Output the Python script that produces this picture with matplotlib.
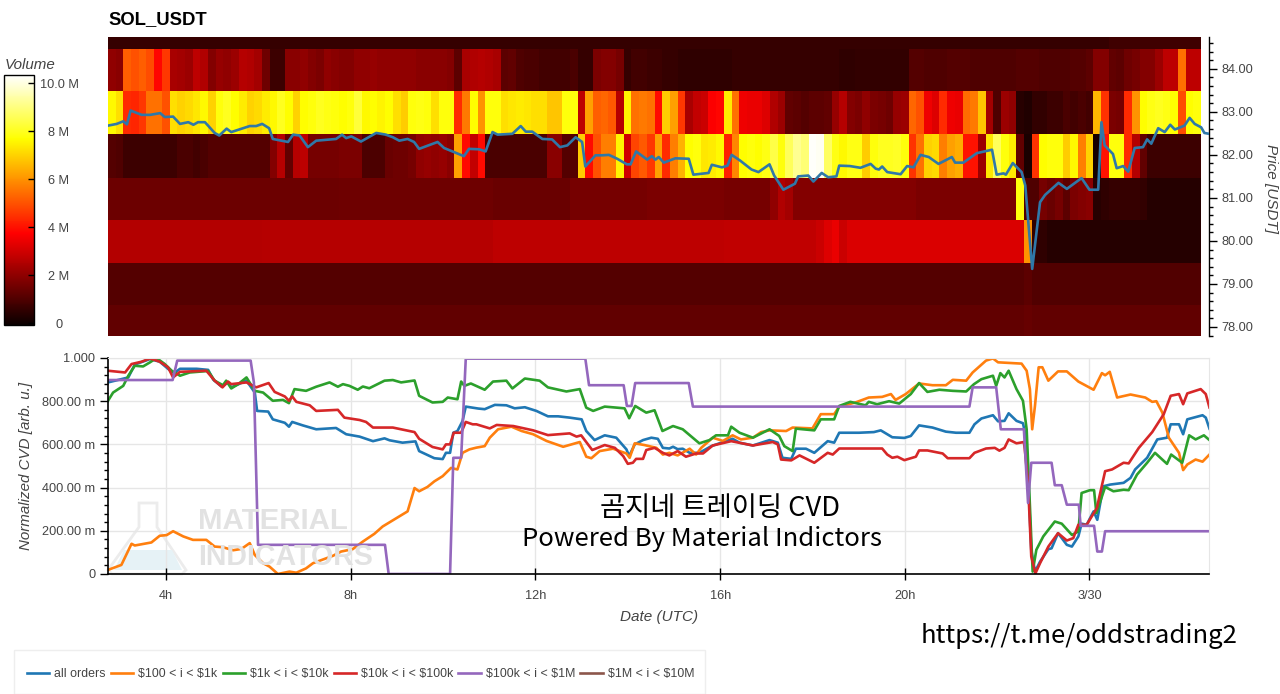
import numpy as np
import matplotlib
matplotlib.use("Agg")
import matplotlib.pyplot as plt
from matplotlib.patches import Polygon, Rectangle
from matplotlib.ticker import MultipleLocator, FixedLocator

plt.rcParams['font.family'] = ['Liberation Sans', 'DejaVu Sans']

# ---------- data: price (hour, USDT) ----------
price = [(2.74,82.68),(2.93,82.72),(3.07,82.78),(3.15,82.71),(3.23,83.03),(3.47,82.93),(3.65,82.93),(3.87,82.97),(3.97,82.88),(4.15,82.89),(4.30,82.72),(4.48,82.76),(4.59,82.70),(4.69,82.76),(4.84,82.76),(5.05,82.51),(5.15,82.45),(5.31,82.61),(5.41,82.53),(5.67,82.62),(5.81,82.67),(5.95,82.67),(6.08,82.72),(6.23,82.62),(6.31,82.37),(6.64,82.30),(6.75,82.47),(6.89,82.45),(7.07,82.18),(7.25,82.33),(7.68,82.37),(7.81,82.47),(7.90,82.39),(8.01,82.43),(8.22,82.31),(8.55,82.51),(8.76,82.47),(8.91,82.41),(9.05,82.33),(9.23,82.37),(9.37,82.30),(9.48,82.14),(9.88,82.30),(10.02,82.16),(10.45,81.97),(10.56,82.14),(10.78,82.13),
(10.92,82.08),(11.07,82.53),(11.18,82.47),(11.50,82.49),(11.68,82.67),(11.79,82.54),(11.93,82.54),(12.15,82.37),(12.36,82.36),(12.53,82.18),(12.69,82.22),(12.87,82.41),(13.01,82.30),(13.08,81.73),(13.30,81.99),(13.44,81.99),(13.59,82.00),(13.77,81.91),(13.98,81.78),(14.06,81.78),(14.18,82.08),(14.42,81.89),(14.52,81.97),(14.60,81.89),(14.67,81.95),(14.78,81.82),(15.03,81.92),(15.32,81.91),(15.42,81.54),(15.75,81.58),(15.82,81.77),(16.04,81.71),(16.16,81.75),(16.25,82.00),(16.43,81.87),(16.68,81.66),(16.83,81.60),(17.07,81.78),(17.17,81.52),(17.37,81.19),(17.62,81.33),(17.69,81.50),(17.91,81.52),(18.02,81.38),(18.20,81.58),(18.34,81.48),(18.52,81.50),(18.58,81.75),(18.81,81.74),
(19.04,81.70),(19.26,81.79),(19.37,81.68),(19.44,81.66),(19.51,81.73),(19.62,81.60),(19.91,81.55),(20.05,81.74),(20.19,81.71),(20.34,82.00),(20.52,81.95),(20.73,81.79),(21.02,81.95),(21.09,81.82),(21.27,81.82),(21.56,82.04),(21.89,82.12),(21.99,81.54),(22.14,81.57),(22.19,81.54),(22.34,81.81),(22.53,81.60),(22.61,81.29),(22.76,79.35),(22.93,80.90),(23.04,81.07),(23.33,81.35),(23.51,81.21),(23.83,81.46),(24.00,81.19),(24.19,81.19),(24.26,82.76),(24.33,82.22),(24.51,82.02),(24.59,81.69),(24.73,81.74),(24.84,81.61),(24.98,82.16),(25.16,82.18),(25.25,82.36),(25.34,82.26),(25.49,82.62),(25.63,82.53),(25.75,82.70),(25.85,82.59),(26.06,82.68),(26.17,82.86),(26.28,82.72),(26.42,82.64),(26.49,82.51),(26.59,82.49)]

# ---------- data: heatmap volume (millions), one list per price band, top to bottom ----------
band_edges = [84.74, 84.46, 83.48, 82.48, 81.47, 80.49, 79.48, 78.51, 77.79]
band_0 = [.6]*130 + [.75]*12
band_1 = [2.0,1.9,5.2,5.0,5.2,4.9,3.8,4.6,2.4,2.3,
          2.2,2.7,2.5,1.8,2.1,2.0,2.2,2.6,2.5,2.3,
          1.5,.7,.7,1.9,1.9,2.0,1.8,1.7,2.0,1.9,
          1.8,1.8,2.0,2.0,2.1,2.0,2.0,2.0,2.0,2.0,
          1.9,1.9,1.9,1.9,1.8,1.2,2.4,2.5,2.6,2.5,
          2.4,1.2,1.3,1.0,.9,.9,.8,.8,.8,.8,
          .9,.6,.6,1.7,1.8,1.8,1.6,.6,.8,.8,
          .7,.7,.6,.6,.5,.5,.5,.5,.5,.5,
          .5,.6,.6,.6,.6,.6,.6,.6,.6,.6,
          .6,.6,.6,.6,.6,.5,.5,.55,.55,.55,
          .55,.55,.55,.55,1.1,1.1,1.0,1.0,1.0,1.1,
          1.1,1.1,1.0,1.0,1.0,1.0,1.0,1.0,1.1,1.1,
          1.1,1.0,1.0,1.0,1.0,1.1,1.1,1.2,1.8,1.8,
          1.3,1.2,1.5,1.6,1.8,1.8,2.2,2.7,2.7,5.5,
          2.7,2.7]
band_2 = [7.6,7.2,4.4,4.3,4.6,5.5,5.5,5.0,7.2,7.0,
          7.1,7.3,7.6,7.0,7.8,8.0,7.7,7.4,7.0,7.1,
          7.4,7.6,8.0,7.7,7.0,7.7,7.8,8.0,7.9,7.8,
          7.7,7.8,8.3,7.6,7.7,7.5,7.7,7.2,6.9,7.8,
          7.9,7.8,7.2,7.8,7.8,4.4,5.6,7.7,6.0,7.8,
          7.8,7.2,7.3,7.4,7.3,7.2,7.2,6.8,6.8,7.8,
          7.8,2.7,6.2,5.2,5.3,5.1,2.6,7.5,5.5,5.6,
          5.5,3.9,6.9,6.2,4.6,2.4,2.8,2.9,3.7,3.8,
          7.4,5.5,3.5,3.4,3.4,3.2,2.5,2.2,1.3,1.2,
          1.1,1.2,1.2,1.3,2.1,2.6,1.8,1.7,2.0,1.7,
          1.6,1.5,2.1,2.2,5.3,5.0,3.5,3.2,4.4,3.5,
          3.4,5.4,5.6,6.8,2.3,1.0,2.2,2.0,0.4,0.25,
          .55,.55,.7,.7,.9,.8,.9,.8,6.6,4.5,
          1.7,1.6,4.4,6.0,7.7,7.9,8.0,7.9,7.7,4.9,
          7.7,7.8]
band_3 = [1.1,1.0,.7,.7,.7,.7,.7,.7,.7,.9,
          .9,.8,.9,1.1,1.1,1.1,1.1,1.1,1.1,1.1,
          1.1,1.8,2.6,1.3,2.6,2.7,1.6,1.6,1.6,1.6,
          1.7,1.7,1.7,.95,.95,.95,1.4,1.5,1.5,1.6,
          2.0,2.1,2.0,2.1,1.9,6.2,3.9,2.8,3.9,.9,
          .9,.9,.9,.9,.9,.9,.9,1.9,1.9,1.1,
          1.1,6.9,3.9,5.0,5.7,5.7,7.5,3.0,4.8,5.1,
          4.6,6.2,4.4,5.7,6.5,7.7,7.8,7.3,7.4,7.6,
          4.2,5.8,7.7,7.8,7.7,7.9,8.4,7.8,8.6,9.2,
          8.9,10.3,10.2,8.7,7.9,7.6,7.9,7.9,6.9,7.8,
          8.0,8.0,8.1,7.8,4.5,5.5,7.0,7.1,5.7,6.2,
          6.4,4.0,4.0,2.2,7.3,8.6,7.8,7.4,1.3,.2,
          4.5,7.7,7.8,7.8,6.9,7.6,5.7,7.0,.1,4.0,
          7.8,7.8,4.4,2.6,1.3,.7,.7,.7,.7,.7,
          .7,.7]
band_4 = [1.45]*30 + [1.5]*20 + [1.4]*10 + [1.6]*10 + [1.7]*10 + [1.6]*6 + [2.0,2.5,2.3] + [1.8]*16 + [1.7]*13 + [7.8,1.0] + [1.0,1.6,1.4,1.6,1.2,1.7,1.8,1.9] + [.4,.5,.6,.6,.6,.6,.55] + [.35]*7
band_5 = [2.55]*20 + [2.6]*30 + [2.7]*30 + [2.75]*12 + [2.9,3.2,3.4,2.9,3.15] + [3.15]*22 + [6.0] + [.5]*2 + [.35]*20
band_6 = [1.1]*50 + [1.08]*69 + [1.2] + [1.05]*22
band_7 = [1.3]*119 + [1.35] + [1.28]*22

# ---------- data: normalized CVD (hour, value) ----------
all_orders = [(2.74,.887),(3.18,.91),(3.25,.94),(3.32,.97),(3.65,.995),(3.86,.983),(4.04,.95),(4.17,.93),(4.30,.95),(4.66,.95),(4.91,.945),(5.02,.90),(5.20,.868),(5.34,.887),(5.41,.864),(5.74,.895),(5.92,.84),(5.97,.755),(6.21,.752),(6.31,.716),(6.57,.70),(6.66,.682),(6.73,.704),(6.96,.688),(7.25,.67),(7.68,.676),(7.90,.647),(8.19,.636),(8.48,.615),(8.73,.628),(8.84,.619),(9.12,.608),(9.40,.614),(9.48,.569),(9.81,.536),(9.99,.532),(10.06,.561),(10.15,.561),(10.22,.654),(10.31,.662),(10.42,.708),(10.49,.775),
(10.76,.766),(10.90,.763),(11.12,.783),(11.37,.781),(11.55,.767),(11.77,.772),(12.02,.755),(12.27,.73),(12.49,.73),(12.74,.724),(13.0,.716),(13.10,.662),(13.28,.62),(13.5,.642),(13.75,.631),(13.97,.577),(14.03,.546),(14.15,.60),(14.33,.62),(14.51,.631),(14.65,.626),(14.76,.584),(14.90,.581),(14.98,.589),(15.08,.578),(15.19,.58),(15.34,.561),(15.55,.561),(15.81,.592),(16.27,.626),(16.42,.608),(16.71,.595),(17.07,.62),(17.25,.608),(17.35,.538),(17.54,.533),(17.64,.58),(17.86,.58),(18.04,.561),(18.33,.615),(18.47,.608),(18.58,.654),
(19.01,.654),(19.33,.657),(19.48,.665),(19.73,.633),(19.99,.63),(20.13,.639),(20.31,.688),(20.60,.678),(20.89,.659),(21.11,.654),(21.40,.654),(21.51,.693),(21.66,.72),(21.91,.735),(22.02,.707),(22.16,.709),(22.25,.744),(22.42,.709),(22.56,.698),(22.62,.639),(22.67,.453),(22.74,.112),(22.82,.011),(22.93,.057),(23.11,.115),(23.18,.119),(23.32,.189),(23.51,.135),(23.62,.127),(23.76,.174),(23.83,.233),(23.94,.228),(24.09,.29),(24.17,.251),(24.30,.406),(24.45,.414),(24.74,.422),(24.89,.445),(24.99,.484),(25.25,.538),(25.47,.623),(25.68,.631),(25.76,.693),(25.94,.693),(26.03,.647),(26.12,.716),(26.45,.735),(26.52,.724),(26.60,.673)]

tier_100_1k = [(2.74,.019),(3.03,.042),(3.25,.14),(3.32,.132),(3.68,.146),(3.86,.177),(4.01,.18),(4.15,.198),(4.37,.174),(4.58,.158),(4.87,.158),(5.05,.127),(5.23,.124),(5.45,.11),(5.63,.116),(5.81,.143),(5.92,.088),(6.10,.05),(6.24,.034),(6.42,0),(6.67,.011),(6.82,.006),(7.03,.026),(7.18,.05),(7.61,.084),(7.79,.104),(8.04,.115),(8.26,.15),(8.51,.186),(8.69,.22),(9.23,.29),(9.38,.398),(9.48,.383),(9.66,.403),(9.81,.429),(9.99,.453),(10.17,.491),(10.31,.484),(10.42,.561),(10.57,.577),
(10.72,.585),(10.9,.592),(11.01,.631),(11.19,.67),(11.48,.682),(11.70,.662),(11.95,.647),(12.24,.616),(12.6,.589),(12.96,.611),(13.1,.543),(13.21,.536),(13.39,.569),(13.68,.58),(13.97,.558),(14.04,.538),(14.15,.605),(14.36,.597),(14.62,.584),(14.76,.553),(14.9,.561),(15.08,.549),(15.34,.58),(15.48,.553),(15.59,.584),(15.84,.631),(16.06,.616),(16.27,.642),(16.45,.623),(16.71,.631),(16.89,.657),(17.07,.665),(17.43,.662),(17.57,.678),(18.0,.674),(18.18,.74),(18.47,.74),(18.58,.775),
(18.93,.794),(19.22,.817),(19.51,.82),(19.70,.833),(19.80,.806),(20.02,.833),(20.31,.882),(20.60,.874),(20.89,.874),(21.04,.899),(21.33,.895),(21.47,.933),(21.76,.988),(21.91,.998),(22.02,.98),(22.53,.974),(22.64,.941),(22.71,.856),(22.76,.67),(22.82,.778),(22.90,.957),(22.98,.957),(23.11,.895),(23.32,.938),(23.51,.938),(23.76,.891),(24.09,.853),(24.27,.93),(24.34,.92),(24.44,.936),(24.60,.817),(24.89,.831),(25.21,.817),(25.36,.797),(25.45,.80),(25.58,.747),(25.72,.631),(25.94,.561),(26.03,.481),(26.12,.507),(26.30,.53),(26.45,.52),(26.60,.553)]

tier_1k_10k = [(2.74,.802),(2.85,.84),(3.07,.871),(3.18,.918),(3.32,.964),(3.50,.961),(3.65,.98),(3.79,1.0),(3.97,.972),(4.12,.941),(4.30,.918),(4.51,.933),(4.91,.94),(5.05,.895),(5.23,.874),(5.30,.895),(5.41,.859),(5.56,.879),(5.74,.91),(5.92,.848),(6.10,.84),(6.31,.802),(6.53,.806),(6.66,.791),(6.78,.856),(7.03,.848),(7.25,.867),(7.54,.887),(7.72,.867),(7.83,.879),(7.97,.871),(8.15,.853),(8.26,.868),(8.40,.86),(8.73,.895),(8.91,.898),(9.09,.887),(9.38,.896),(9.48,.825),(9.77,.794),(9.99,.797),(10.10,.817),(10.31,.809),(10.39,.891),(10.46,.871),(10.60,.882),
(10.90,.853),(11.08,.891),(11.37,.895),(11.50,.859),(11.77,.905),(12.09,.895),(12.27,.864),(12.67,.845),(12.96,.856),(13.10,.77),(13.25,.755),(13.5,.775),(13.93,.767),(14.03,.721),(14.16,.778),(14.40,.747),(14.58,.758),(14.75,.662),(14.98,.685),(15.19,.67),(15.55,.605),(15.77,.62),(15.91,.642),(16.17,.642),(16.24,.682),(16.42,.654),(16.71,.631),(17.07,.67),(17.28,.639),(17.39,.592),(17.57,.569),(17.64,.673),(18.04,.665),(18.18,.716),(18.47,.716),(18.58,.778),
(18.82,.797),(19.15,.781),(19.22,.797),(19.40,.786),(19.66,.80),(19.88,.789),(20.13,.833),(20.31,.884),(20.49,.843),(20.75,.853),(21.04,.848),(21.33,.845),(21.50,.879),(21.66,.902),(21.91,.918),(21.98,.871),(22.07,.93),(22.16,.91),(22.25,.941),(22.42,.856),(22.56,.802),(22.64,.67),(22.69,.422),(22.77,.011),(22.85,.112),(23.0,.174),(23.25,.243),(23.40,.233),(23.62,.181),(23.76,.197),(23.83,.375),(24.01,.388),(24.10,.388),(24.15,.282),(24.34,.403),(24.52,.383),(24.74,.39),(24.85,.388),(25.03,.46),(25.25,.515),(25.42,.561),(25.68,.51),(25.77,.553),(26.01,.515),(26.16,.642),(26.30,.623),(26.48,.642),(26.60,.62)]

tier_10k_100k = [(2.74,.941),(3.11,.933),(3.25,.972),(3.47,.983),(3.65,.998),(3.86,.983),(4.04,.957),(4.15,.91),(4.30,.936),(4.87,.941),(5.05,.895),(5.22,.864),(5.34,.891),(5.41,.879),(5.74,.887),(5.95,.864),(6.22,.884),(6.35,.843),(6.57,.822),(6.66,.802),(6.73,.822),(6.82,.797),(7.11,.781),(7.25,.755),(7.72,.76),(7.86,.724),(8.19,.713),(8.33,.704),(8.48,.678),(8.91,.678),(9.38,.657),(9.48,.626),(9.77,.588),(9.99,.577),(10.06,.60),(10.15,.60),(10.23,.654),(10.39,.654),(10.49,.704),(10.64,.693),
(10.72,.693),(11.01,.674),(11.16,.69),(11.52,.685),(11.95,.665),(12.27,.643),(12.74,.651),(12.89,.636),(12.99,.642),(13.23,.574),(13.5,.597),(13.72,.584),(13.90,.546),(14.0,.51),(14.11,.515),(14.18,.533),(14.33,.533),(14.40,.574),(14.58,.584),(14.76,.561),(14.90,.549),(15.08,.569),(15.26,.543),(15.48,.558),(15.63,.558),(15.84,.595),(16.24,.615),(16.71,.595),(17.14,.611),(17.25,.60),(17.32,.53),(17.54,.526),(17.72,.549),(18.04,.515),(18.33,.561),(18.44,.553),(18.58,.581),
(19.01,.581),(19.51,.581),(19.62,.553),(19.73,.538),(19.84,.543),(19.99,.527),(20.24,.543),(20.31,.572),(20.49,.572),(20.82,.558),(20.93,.536),(21.40,.536),(21.51,.561),(21.76,.581),(21.95,.584),(22.05,.571),(22.16,.584),(22.25,.623),(22.42,.605),(22.58,.611),(22.60,.577),(22.67,.422),(22.74,.081),(22.83,.003),(22.93,.05),(23.11,.127),(23.32,.189),(23.51,.155),(23.65,.166),(23.76,.228),(23.94,.228),(24.16,.305),(24.34,.476),(24.49,.484),(24.74,.515),(24.85,.512),(25.07,.584),(25.36,.657),(25.61,.74),(25.76,.825),(25.94,.833),(26.03,.786),(26.12,.836),(26.41,.856),(26.52,.833),(26.60,.771)]

tier_100k_1m = [(2.74,.898),(4.14,.898),(4.24,.988),(5.83,.988),(5.90,.887),(5.99,.135),(8.74,.135),(8.82,0),(10.15,0),(10.22,.538),(10.39,.538),(10.49,.997),(13.08,.997),(13.16,.874),(13.91,.874),(13.98,.778),(14.08,.778),(14.16,.884),(15.32,.884),(15.41,.775),(21.40,.775),(21.47,.864),(21.98,.864),(22.08,.67),(22.58,.67),(22.67,.329),(22.74,.515),(23.18,.515),(23.25,.411),(23.40,.411),(23.51,.321),(23.77,.321),(23.81,.223),(24.10,.223),(24.17,.104),(24.27,.104),(24.34,.198),(26.60,.198)]

series = [(all_orders, 'all orders', '#1f77b4'),
          (tier_100_1k, r'\$100 < i < \$1k', '#ff7f0e'),
          (tier_1k_10k, r'\$1k < i < \$10k', '#2ca02c'),
          (tier_10k_100k, r'\$10k < i < \$100k', '#d62728'),
          (tier_100k_1m, r'\$100k < i < \$1M', '#9467bd')]

x_ticks = [4, 8, 12, 16, 20, 24]
x_tick_labels = ['4h', '8h', '12h', '16h', '20h', '3/30']
price_ticks = [78, 79, 80, 81, 82, 83, 84]
cvd_ticks = [0, .2, .4, .6, .8, 1.0]
cvd_tick_labels = ['0', '200.00 m', '400.00 m', '600.00 m', '800.00 m', '1.000']
vol_ticks = [0, 2, 4, 6, 8, 10]
vol_tick_labels = ['0', '2 M', '4 M', '6 M', '8 M', '10.0 M']

# ---------- layout in pixels ----------
W, H = 1280, 694
def axes_px(l, t, r, b):
    return fig.add_axes([l / W, 1 - b / H, (r - l) / W, (b - t) / H])

GREY = '#444444'
fig = plt.figure(figsize=(W / 100, H / 100), dpi=100, facecolor='white')
ax_top = axes_px(108, 37, 1209, 336)
ax_bot = axes_px(108, 358, 1209, 574)
cax = axes_px(4, 75, 34, 325)
XLIM = (2.74, 26.59)

# heatmap
rows = [band_7, band_6, band_5, band_4, band_3, band_2, band_1, band_0]
volume = np.array(rows)
col_edges = np.linspace(2.74, 26.42, volume.shape[1] + 1)
mesh = ax_top.pcolormesh(col_edges, band_edges[::-1], volume, cmap='hot', vmin=-.08, vmax=10.35,
                         shading='flat', rasterized=True, antialiased=False, linewidth=0)
pt, pv = np.array(price).T
ax_top.plot(pt, pv, color='#2f78a8', lw=1.9, solid_joinstyle='round', zorder=3)
ax_top.set_xlim(*XLIM)
ax_top.set_ylim(band_edges[-1], band_edges[0])
ax_top.set_xticks([])
ax_top.yaxis.tick_right()
ax_top.yaxis.set_major_locator(FixedLocator(price_ticks))
ax_top.yaxis.set_minor_locator(MultipleLocator(.2))
ax_top.set_yticklabels([f'{p:.2f}' for p in price_ticks])
ax_top.tick_params(axis='y', which='major', length=6, width=1, color='black', labelcolor=GREY, labelsize=9.2, pad=3)
ax_top.tick_params(axis='y', which='minor', length=3, width=1, color='black')
for s in ['left', 'bottom', 'top']:
    ax_top.spines[s].set_visible(False)
ax_top.spines['right'].set_color('black')
ax_top.spines['right'].set_linewidth(1)
fig.text(108 / W, 1 - 20 / H, 'SOL_USDT', fontsize=13.3, fontweight='bold', color='black', ha='left', va='center')
fig.text(1271 / W, 1 - 188 / H, 'Price [USDT]', fontsize=11, style='italic', color=GREY,
         rotation=270, ha='center', va='center')

# colourbar
cb = fig.colorbar(mesh, cax=cax)
cb.set_ticks(vol_ticks, labels=vol_tick_labels)
cb.ax.tick_params(axis='y', which='major', direction='in', length=4, width=1, color='black',
                  labelcolor=GREY, labelsize=9.2, pad=18)
for lab in cb.ax.get_yticklabels():
    lab.set_ha('center')
cb.outline.set_edgecolor('black')
cb.outline.set_linewidth(1)
fig.text(5 / W, 1 - 65 / H, 'Volume', fontsize=10.9, style='italic', color=GREY, ha='left', va='center')

# watermark behind the CVD lines
flask = [(139, 503), (157, 503), (157, 527), (186, 570), (182, 574), (112, 574), (108, 570), (139, 527)]
flask_fig = [(x / W, 1 - y / H) for x, y in flask]
fig.add_artist(Polygon(flask_fig, closed=True, facecolor='none', edgecolor='#ececec', lw=2, transform=fig.transFigure, zorder=0))
liquid = [(124, 550), (172, 550), (182, 570), (114, 570)]
fig.add_artist(Polygon([(x / W, 1 - y / H) for x, y in liquid], closed=True, facecolor='#e6f2f6',
                       edgecolor='none', transform=fig.transFigure, zorder=0))
fig.text(198 / W, 1 - 521 / H, 'MATERIAL', fontsize=21.2, fontweight='bold', color='#e2e2e2', ha='left', va='center', zorder=0)
fig.text(198 / W, 1 - 557 / H, 'INDICATORS', fontsize=20.6, fontweight='bold', color='#e2e2e2', ha='left', va='center', zorder=0)

# CVD
ax_bot.patch.set_alpha(0)
lines = []
for pts, label, color in series:
    t, v = np.array(pts).T
    lines.append(ax_bot.plot(t, v, color=color, lw=1.9, label=label, solid_joinstyle='round')[0])
lines.append(ax_bot.plot([], [], color='#8c564b', lw=1.9, label=r'\$1M < i < \$10M')[0])
ax_bot.set_xlim(*XLIM)
ax_bot.set_ylim(0, 1)
ax_bot.set_xticks(x_ticks, labels=x_tick_labels)
ax_bot.set_yticks(cvd_ticks, labels=cvd_tick_labels)
ax_bot.yaxis.set_minor_locator(MultipleLocator(.04))
ax_bot.grid(True, which='major', color='#e6e6e6', lw=1)
ax_bot.set_axisbelow(True)
ax_bot.tick_params(axis='x', which='major', direction='inout', length=8, width=1, color='black',
                   labelcolor=GREY, labelsize=9.2, pad=7.5)
ax_bot.tick_params(axis='y', which='major', direction='out', length=6, width=1, color='black',
                   labelcolor=GREY, labelsize=9.2, pad=3)
ax_bot.tick_params(axis='y', which='minor', direction='out', length=3, width=1, color='black')
for s in ['top', 'right']:
    ax_bot.spines[s].set_color('#e6e6e6')
for s in ['left', 'bottom']:
    ax_bot.spines[s].set_color('black')
    ax_bot.spines[s].set_linewidth(1.2)
fig.text(26.5 / W, 1 - 466 / H, 'Normalized CVD [arb. u.]', fontsize=10.9, style='italic', color=GREY,
         rotation=90, ha='center', va='center')
fig.text(659 / W, 1 - 617.5 / H, 'Date (UTC)', fontsize=11, style='italic', color=GREY, ha='center', va='center')

# overlay captions
cjk = ['Noto Sans CJK KR', 'DejaVu Sans']
fig.text(720 / W, 1 - 508.5 / H, '곰지네 트레이딩 CVD', fontsize=19.7, family=cjk, fontweight='medium', color='black', ha='center', va='center')
fig.text(702 / W, 1 - 539 / H, 'Powered By Material Indictors', fontsize=18.5, family=cjk, fontweight='medium', color='black', ha='center', va='center')
fig.text(1079 / W, 1 - 636 / H, 'https://t.me/oddstrading2', fontsize=18.5, family=cjk, fontweight='medium', color='black', ha='center', va='center')

# legend: the box runs to the bottom edge of the picture
fig.add_artist(Rectangle((14 / W, 0), (705 - 14) / W, (694 - 650) / H, facecolor='white',
                         edgecolor='#eeeeee', lw=1, transform=fig.transFigure))
fig.legend(handles=lines, ncols=6, loc='center left', bbox_to_anchor=(27 / W, 1 - 674 / H),
           bbox_transform=fig.transFigure, frameon=False, fontsize=8.9, labelcolor=GREY,
           handlelength=1.8, handletextpad=.42, columnspacing=.41, borderaxespad=0, borderpad=0)

fig.savefig('out.png', dpi=100)
